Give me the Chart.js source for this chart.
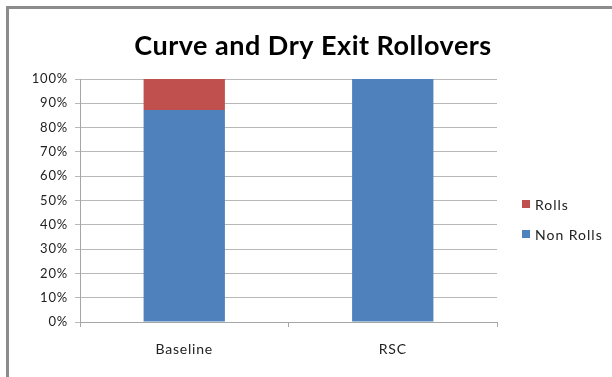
<!DOCTYPE html>
<html>
<head>
<meta charset="utf-8">
<script src="https://cdn.jsdelivr.net/npm/chart.js@4/dist/chart.umd.min.js"></script>
<style>
  html, body { margin: 0; padding: 0; background: #fff; }
  #wrap { width: 612px; height: 377px; position: relative; }
</style>
</head>
<body>
<div id="wrap"><canvas id="c" width="612" height="377"></canvas></div>
<script>
const categories = ['Baseline', 'RSC'];
const nonRolls = [87.2, 100];
const rolls = [12.8, 0];
const yTicks = [0, 10, 20, 30, 40, 50, 60, 70, 80, 90, 100];
const chartTitle = 'Curve and Dry Exit Rollovers';

const FONT = 'Lato, "Open Sans", "DejaVu Sans", sans-serif';

// Slightly open letter spacing for all canvas text
const spacing = {
  id: 'spacing',
  beforeDraw(chart) { chart.ctx.letterSpacing = '0.8px'; }
};

// Frame, title and legend drawn on the canvas after the chart itself
const decorations = {
  id: 'decorations',
  afterDraw(chart) {
    const ctx = chart.ctx;
    ctx.save();
    // outer frame (top and left edges)
    ctx.strokeStyle = '#8c8c8c';
    ctx.lineWidth = 3;
    ctx.beginPath();
    ctx.moveTo(7.5, 377);
    ctx.lineTo(7.5, 7.5);
    ctx.lineTo(612, 7.5);
    ctx.stroke();

    // title
    ctx.fillStyle = '#000';
    ctx.letterSpacing = '0.5px';
    ctx.font = 'bold 27px ' + FONT;
    ctx.textAlign = 'center';
    ctx.textBaseline = 'middle';
    ctx.fillText(chartTitle, 313, 46);

    // legend, top entry is the top of the stack
    const items = chart.data.datasets.slice().reverse();
    ctx.letterSpacing = '1px';
    ctx.font = '14px ' + FONT;
    ctx.textAlign = 'left';
    items.forEach((ds, i) => {
      const y = 204 + i * 30;
      ctx.fillStyle = ds.backgroundColor;
      ctx.fillRect(522, y - 4, 8, 8);
      ctx.fillStyle = '#222';
      ctx.fillText(ds.label, 535, y + 1);
    });
    ctx.restore();
  }
};

new Chart(document.getElementById('c'), {
  type: 'bar',
  data: {
    labels: categories,
    datasets: [
      { label: 'Non Rolls', data: nonRolls, backgroundColor: '#4F81BD', barPercentage: 0.39, categoryPercentage: 1 },
      { label: 'Rolls', data: rolls, backgroundColor: '#C0504D', barPercentage: 0.39, categoryPercentage: 1 }
    ]
  },
  options: {
    responsive: false,
    animation: false,
    layout: { padding: { top: 79, left: 8, right: 115, bottom: 0 } },
    plugins: {
      legend: { display: false },
      title: { display: false },
      tooltip: { enabled: false }
    },
    scales: {
      x: {
        stacked: true,
        afterFit(scale) { scale.height = 55; },
        grid: {
          offset: true,
          drawOnChartArea: false,
          drawTicks: true,
          tickLength: 5,
          color: '#a6a6a6'
        },
        border: { color: '#a6a6a6', width: 1 },
        ticks: { color: '#222', font: { family: FONT, size: 14 }, padding: 14 }
      },
      y: {
        stacked: true,
        min: 0,
        max: 100,
        afterFit(scale) { scale.width = 72; },
        afterBuildTicks(scale) { scale.ticks = yTicks.map(v => ({ value: v })); },
        grid: { color: '#b8b8b8', tickLength: 5 },
        border: { color: '#a6a6a6', width: 1 },
        ticks: {
          color: '#222',
          font: { family: FONT, size: 13 },
          padding: 7,
          callback: v => v + '%'
        }
      }
    }
  },
  plugins: [spacing, decorations]
});
</script>
</body>
</html>
